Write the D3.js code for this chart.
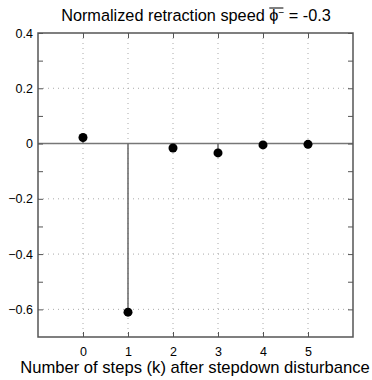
<!DOCTYPE html>
<html>
<head>
<meta charset="utf-8">
<script src="https://cdn.jsdelivr.net/npm/d3@7"></script>
<style>
  body { margin: 0; background: #fff; }
  svg { display: block; }
  text { font-family: "Liberation Sans", Arial, sans-serif; fill: #000; }
</style>
</head>
<body>
<svg id="chart" width="372" height="380"></svg>
<script>
// Response at each step after a stepdown disturbance
const steps = [0, 1, 2, 3, 4, 5];
const response = [0.022, -0.61, -0.016, -0.034, -0.005, -0.003];
const xTicks = [0, 1, 2, 3, 4, 5];
const yTicks = [0.4, 0.2, 0, -0.2, -0.4, -0.6];
const yMinorTicks = [0.3, 0.1, -0.1, -0.3, -0.5];

const svg = d3.select("#chart");
const m = { left: 38, right: 19, top: 33, bottom: 43 };
const W = 372, H = 380;
const pw = W - m.left - m.right, ph = H - m.top - m.bottom;

const x = d3.scaleLinear().domain([-1, 6]).range([m.left, m.left + pw]);
const y = d3.scaleLinear().domain([-0.7, 0.4]).range([m.top + ph, m.top]);

const axisColor = "#555";
const g = svg.append("g");

// dotted grid
g.selectAll("line.gx").data(xTicks).join("line")
  .attr("x1", d => x(d)).attr("x2", d => x(d))
  .attr("y1", m.top).attr("y2", m.top + ph)
  .attr("stroke", "#aaa").attr("stroke-width", 1).attr("stroke-dasharray", "1,4");
g.selectAll("line.gy").data(yTicks.filter(v => v > -0.7 && v < 0.4)).join("line")
  .attr("x1", m.left).attr("x2", m.left + pw)
  .attr("y1", d => y(d)).attr("y2", d => y(d))
  .attr("stroke", "#aaa").attr("stroke-width", 1).attr("stroke-dasharray", "1,4");

// baseline at zero
g.append("line")
  .attr("x1", m.left).attr("x2", m.left + pw)
  .attr("y1", y(0)).attr("y2", y(0))
  .attr("stroke", "#777").attr("stroke-width", 1.5);

// axes with inward ticks on all four sides
const tk = 5;
const bottomAxis = d3.axisBottom(x).tickValues(xTicks).tickSizeInner(-tk).tickSizeOuter(0).tickPadding(10).tickFormat(d3.format("d"));
const topAxis = d3.axisTop(x).tickValues(xTicks).tickSizeInner(-tk).tickSizeOuter(0).tickFormat("");
const leftAxis = d3.axisLeft(y).tickValues(yTicks.concat(yMinorTicks)).tickSizeInner(-tk).tickSizeOuter(0).tickPadding(5)
  .tickFormat(d => yTicks.includes(d) ? (d === 0 ? "0" : d3.format(".1f")(d)) : "");
const rightAxis = d3.axisRight(y).tickValues(yTicks.concat(yMinorTicks)).tickSizeInner(-tk).tickSizeOuter(0).tickFormat("");

function styleAxis(sel) {
  sel.select(".domain").remove();
  sel.selectAll(".tick line").attr("stroke", axisColor);
  sel.selectAll(".tick text").attr("font-size", 12.5).attr("fill", "#222")
    .attr("font-family", "Liberation Sans, Arial, sans-serif");
}
g.append("g").attr("transform", `translate(0,${m.top + ph})`).call(bottomAxis).call(styleAxis);
g.append("g").attr("transform", `translate(0,${m.top})`).call(topAxis).call(styleAxis);
g.append("g").attr("transform", `translate(${m.left},0)`).call(leftAxis).call(styleAxis);
g.append("g").attr("transform", `translate(${m.left + pw},0)`).call(rightAxis).call(styleAxis);

// box
g.append("rect").attr("x", m.left).attr("y", m.top).attr("width", pw).attr("height", ph)
  .attr("fill", "none").attr("stroke", axisColor).attr("stroke-width", 1.5);

// stems and markers
const pts = steps.map((k, i) => ({ k, v: response[i] }));
g.selectAll("line.stem").data(pts).join("line")
  .attr("x1", d => x(d.k)).attr("x2", d => x(d.k))
  .attr("y1", y(0)).attr("y2", d => y(d.v))
  .attr("stroke", "#666").attr("stroke-width", 1.5);
g.selectAll("circle").data(pts).join("circle")
  .attr("cx", d => x(d.k)).attr("cy", d => y(d.v)).attr("r", 4.5)
  .attr("fill", "#000");

// title with phi-bar superscript minus
const title = svg.append("text").attr("x", 196).attr("y", 21)
  .attr("text-anchor", "middle").attr("font-size", 16.3);
title.append("tspan").text("Normalized retraction speed ");
title.append("tspan").text("ϕ");
title.append("tspan").attr("font-size", 10).attr("dy", -5).text("−");
title.append("tspan").attr("dy", 5).text(" = -0.3");
const phiIdx = "Normalized retraction speed ".length;
const ext = title.node().getExtentOfChar(phiIdx);
svg.append("line")
  .attr("x1", ext.x).attr("x2", ext.x + ext.width + 5)
  .attr("y1", ext.y + 2).attr("y2", ext.y + 2)
  .attr("stroke", "#000").attr("stroke-width", 1);

// x axis label
svg.append("text").attr("x", 195).attr("y", 373)
  .attr("text-anchor", "middle").attr("font-size", 16.6)
  .text("Number of steps (k) after stepdown disturbance");
</script>
</body>
</html>
